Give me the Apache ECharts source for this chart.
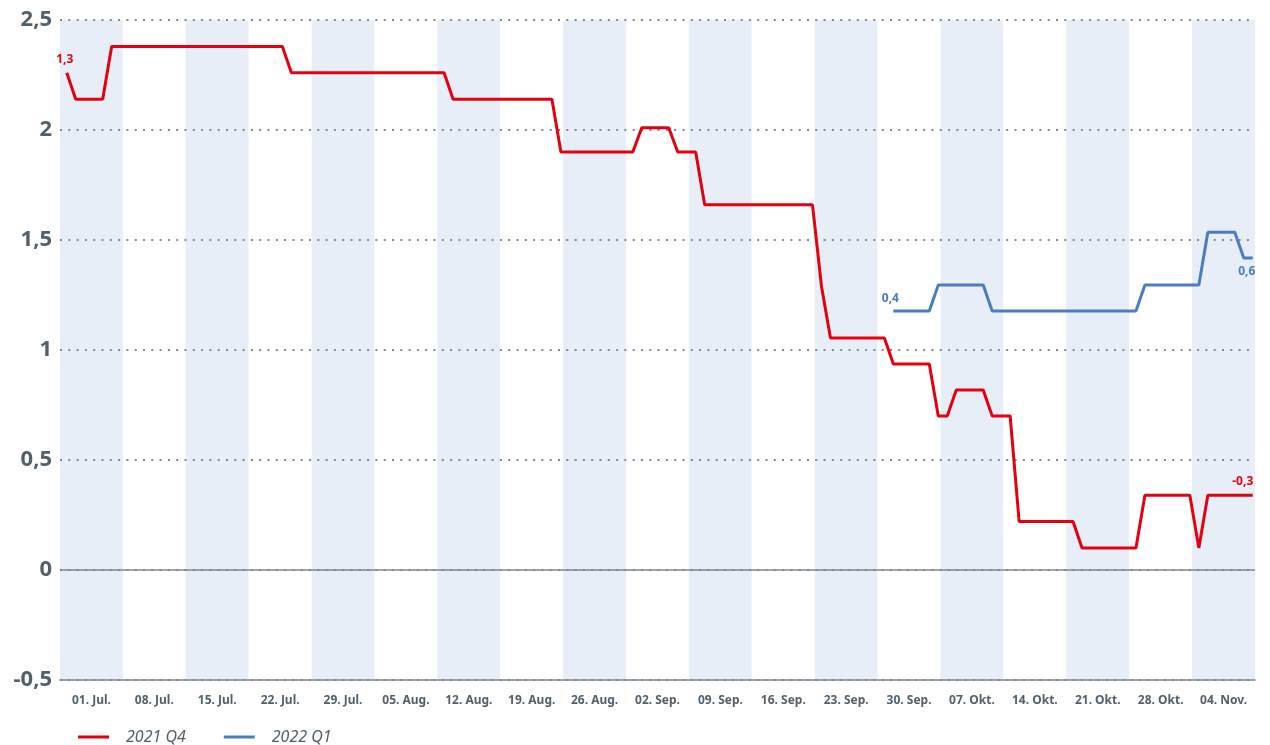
<!DOCTYPE html>
<html>
<head>
<meta charset="utf-8">
<script src="https://cdn.jsdelivr.net/npm/echarts@6/dist/echarts.min.js"></script>
<style>
  html, body { margin: 0; padding: 0; background: #fff; }
  #chart { width: 1270px; height: 745px; }
</style>
</head>
<body>
<div id="chart"></div>
<script>
// week labels, one per shaded/white band
var weekLabels = ['01. Jul.', '08. Jul.', '15. Jul.', '22. Jul.', '29. Jul.', '05. Aug.', '12. Aug.',
  '19. Aug.', '26. Aug.', '02. Sep.', '09. Sep.', '16. Sep.', '23. Sep.', '30. Sep.', '07. Okt.',
  '14. Okt.', '21. Okt.', '28. Okt.', '04. Nov.'];

// daily values, day 0 = first day of the first band
var red2021Q4 = [
  2.26, 2.14, 2.14, 2.14, 2.14,
  2.38, 2.38, 2.38, 2.38, 2.38, 2.38, 2.38, 2.38, 2.38, 2.38,
  2.38, 2.38, 2.38, 2.38, 2.38, 2.38, 2.38, 2.38, 2.38, 2.38,
  2.26, 2.26, 2.26, 2.26, 2.26, 2.26, 2.26, 2.26, 2.26,
  2.26, 2.26, 2.26, 2.26, 2.26, 2.26, 2.26, 2.26, 2.26,
  2.14, 2.14, 2.14, 2.14, 2.14, 2.14, 2.14, 2.14, 2.14, 2.14, 2.14, 2.14,
  1.90, 1.90, 1.90, 1.90, 1.90, 1.90, 1.90, 1.90, 1.90,
  2.01, 2.01, 2.01, 2.01,
  1.90, 1.90, 1.90,
  1.66, 1.66, 1.66, 1.66, 1.66, 1.66, 1.66, 1.66, 1.66, 1.66, 1.66, 1.66, 1.66,
  1.29,
  1.055, 1.055, 1.055, 1.055, 1.055, 1.055, 1.055,
  0.936, 0.936, 0.936, 0.936, 0.936,
  0.70, 0.70,
  0.818, 0.818, 0.818, 0.818,
  0.70, 0.70, 0.70,
  0.22, 0.22, 0.22, 0.22, 0.22, 0.22, 0.22,
  0.10, 0.10, 0.10, 0.10, 0.10, 0.10, 0.10,
  0.34, 0.34, 0.34, 0.34, 0.34, 0.34,
  0.10,
  0.34, 0.34, 0.34, 0.34, 0.34, 0.34
];

var blueStartDay = 92;
var blue2022Q1 = [
  1.177, 1.177, 1.177, 1.177, 1.177,
  1.295, 1.295, 1.295, 1.295, 1.295, 1.295,
  1.177, 1.177, 1.177, 1.177, 1.177, 1.177, 1.177, 1.177, 1.177,
  1.177, 1.177, 1.177, 1.177, 1.177, 1.177, 1.177, 1.177,
  1.295, 1.295, 1.295, 1.295, 1.295, 1.295, 1.295,
  1.535, 1.535, 1.535, 1.535,
  1.418, 1.418
];

// value labels at the start and end of each line
var redLabels = ['1,3', '-0,3'];
var blueLabels = ['0,4', '0,6'];

var yTicks = { min: -0.5, max: 2.5, interval: 0.5 };

var RED = '#e3000f';
var BLUE = '#4a7cc0';
var TXT = '#52606b';
var FONT = 'Noto Sans';

function pointLabel(text, color, pos, offset) {
  return {
    show: true, formatter: text, position: pos, distance: 6, offset: offset,
    color: color, fontFamily: FONT, fontWeight: 'bold', fontSize: 12
  };
}

function buildData(values, startDay, labels, color, posA, offA, posB, offB) {
  var out = [];
  for (var k = 0; k < values.length; k++) {
    var item = { value: [startDay + k, values[k]] };
    if (k === 0) item.label = pointLabel(labels[0], color, posA, offA);
    if (k === values.length - 1) item.label = pointLabel(labels[1], color, posB, offB);
    out.push(item);
  }
  return out;
}

var totalDays = weekLabels.length * 7;

var chart = echarts.init(document.getElementById('chart'));
chart.setOption({
  animation: false,
  grid: { left: 60, right: 15, top: 20, bottom: 65 },
  legend: {
    left: 73, top: 724,
    icon: 'rect', itemWidth: 31, itemHeight: 3, itemGap: 38,
    textStyle: { color: TXT, fontFamily: FONT, fontStyle: 'italic', fontSize: 16, padding: [0, 0, 0, 12] },
    data: ['2021 Q4', '2022 Q1']
  },
  xAxis: [{
    type: 'category',
    data: weekLabels,
    boundaryGap: true,
    z: 0,
    axisLine: { onZero: false, lineStyle: { color: '#7d8890', width: 1.5 } },
    axisTick: { show: false },
    axisLabel: { interval: 0, margin: 15, color: TXT, fontFamily: FONT, fontWeight: 'bold', fontSize: 12 },
    splitLine: { show: false },
    splitArea: { show: true, interval: 0, areaStyle: { color: ['#e7eef8', '#ffffff'] } }
  }, {
    type: 'value',
    min: -0.75,
    max: totalDays - 0.75,
    show: false,
    splitLine: { show: false }
  }],
  yAxis: {
    type: 'value',
    z: 2,
    min: yTicks.min, max: yTicks.max, interval: yTicks.interval,
    axisLine: { show: false },
    axisTick: { show: false },
    axisLabel: {
      margin: 8, color: TXT, fontFamily: FONT, fontWeight: 'bold', fontSize: 22,
      formatter: function (v) { return String(v).replace('.', ','); }
    },
    splitLine: { lineStyle: { color: '#7d8890', width: 2, type: [2, 6.3] } }
  },
  series: [{
    name: '2021 Q4',
    type: 'line',
    xAxisIndex: 1,
    symbol: 'circle',
    symbolSize: 0,
    showSymbol: true,
    showAllSymbol: true,
    lineStyle: { color: RED, width: 3 },
    itemStyle: { color: RED },
    data: buildData(red2021Q4, 0, redLabels, RED, 'top', [-2, -1], 'top', [-10, -2]),
    markLine: {
      silent: true, symbol: 'none', label: { show: false },
      lineStyle: { color: '#7d8890', width: 1.5, type: 'solid' },
      data: [{ yAxis: 0 }]
    },
    z: 3
  }, {
    name: '2022 Q1',
    type: 'line',
    xAxisIndex: 1,
    symbol: 'circle',
    symbolSize: 0,
    showSymbol: true,
    showAllSymbol: true,
    lineStyle: { color: BLUE, width: 3 },
    itemStyle: { color: BLUE },
    data: buildData(blue2022Q1, blueStartDay, blueLabels, BLUE, 'top', [-3, 0], 'bottom', [-6, 2]),
    z: 3
  }]
});
</script>
</body>
</html>
